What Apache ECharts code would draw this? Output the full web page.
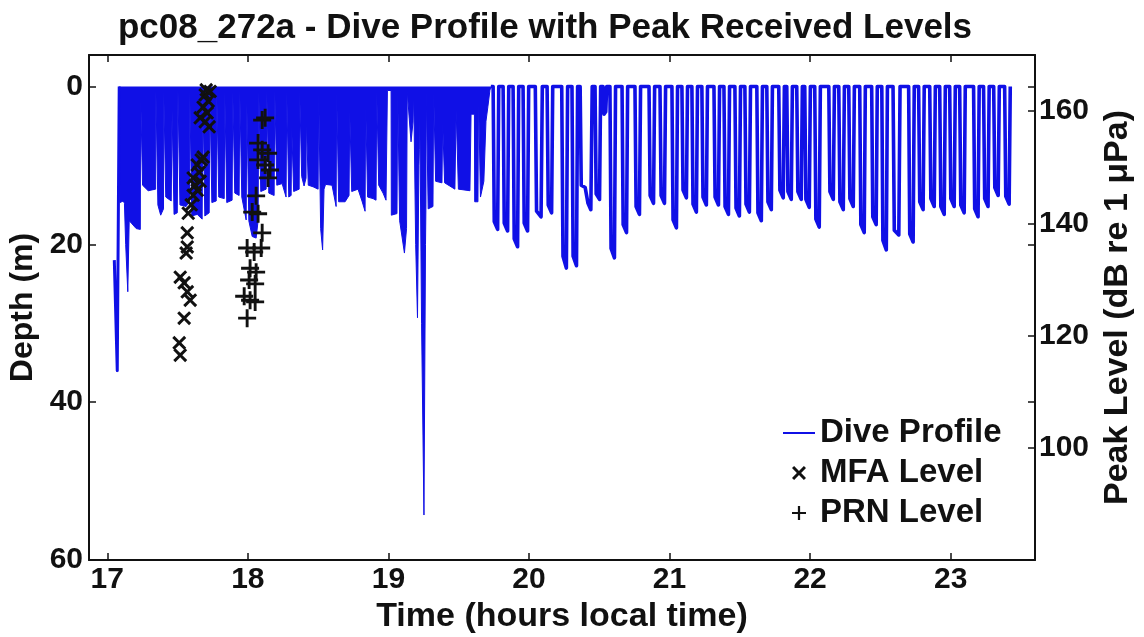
<!DOCTYPE html>
<html>
<head>
<meta charset="utf-8">
<title>pc08_272a dive profile</title>
<script src="https://cdn.jsdelivr.net/npm/echarts@6.0.0/dist/echarts.min.js"></script>
<style>
  html, body { margin: 0; padding: 0; background: #fff; }
  #chart { width: 1144px; height: 637px; }
</style>
</head>
<body>
<div id="chart"></div>
<script>
// tick labels
var timeTicks = [17, 18, 19, 20, 21, 22, 23];
var depthTicks = [0, 20, 40, 60];
var levelTicks = [100, 120, 140, 160];

// dive profile: [hours local time, depth m]
// first partial dive, tag starts mid dive
var diveStart = [[17.050, 22.0], [17.071, 36.0], [17.085, 0]];

// busy shallow diving 17.1 - 19.7 h (filled between surface and depth)
var diveDense = [
  [17.085, 0],
  [17.090, 14.7], [17.114, 14.5], [17.122, 14.8], [17.131, 20.0], [17.146, 26.0], [17.156, 17.0], [17.171, 17.3], [17.206, 18.0], [17.235, 18.1],
  [17.237, 0.5], [17.249, 0.5],
  [17.251, 12.5], [17.291, 13.2], [17.344, 13.0],
  [17.346, 0.5], [17.358, 0.5],
  [17.360, 15.0], [17.380, 16.3], [17.400, 15.5],
  [17.402, 0.5], [17.414, 0.5],
  [17.416, 14.0], [17.455, 14.5], [17.459, 14.4],
  [17.461, 3.0], [17.473, 3.0],
  [17.475, 16.2], [17.498, 16.0], [17.501, 16.0],
  [17.503, 0.5], [17.515, 0.5],
  [17.517, 15.0], [17.561, 15.2], [17.585, 14.5],
  [17.587, 0.5], [17.599, 0.5],
  [17.601, 16.4], [17.640, 16.2], [17.675, 16.8], [17.678, 16.8],
  [17.680, 0.5], [17.692, 0.5],
  [17.694, 16.4], [17.725, 16.0], [17.728, 16.0],
  [17.730, 0.5], [17.742, 0.5],
  [17.744, 14.7], [17.775, 14.5], [17.777, 14.5],
  [17.779, 0.5], [17.791, 0.5],
  [17.793, 14.0], [17.832, 14.2], [17.834, 14.2],
  [17.836, 0.5], [17.848, 0.5],
  [17.850, 14.7], [17.888, 14.4], [17.891, 14.4],
  [17.893, 0.5], [17.905, 0.5],
  [17.907, 13.5], [17.938, 13.8], [17.941, 13.8],
  [17.943, 0.5], [17.955, 0.5],
  [17.957, 14.0], [17.988, 16.9], [17.991, 16.9],
  [17.993, 2.0], [18.005, 2.0],
  [18.007, 17.0], [18.031, 19.0], [18.059, 19.2], [18.073, 17.0], [18.076, 17.0],
  [18.078, 0.5], [18.090, 0.5],
  [18.092, 13.3], [18.130, 13.0], [18.133, 13.0],
  [18.135, 0.5], [18.147, 0.5],
  [18.149, 13.5], [18.187, 13.8], [18.190, 13.8],
  [18.192, 0.5], [18.204, 0.5],
  [18.206, 12.5], [18.244, 12.3], [18.272, 14.0], [18.275, 14.0],
  [18.277, 0.5], [18.289, 0.5],
  [18.291, 14.0], [18.308, 13.8], [18.310, 13.8],
  [18.312, 5.0], [18.324, 5.0],
  [18.326, 13.3], [18.365, 13.0], [18.367, 13.0],
  [18.369, 0.5], [18.381, 0.5],
  [18.383, 11.4], [18.400, 12.6], [18.414, 11.6],
  [18.416, 4.0], [18.428, 4.0],
  [18.430, 12.5], [18.464, 12.7], [18.500, 13.0], [18.502, 13.0],
  [18.504, 0.5], [18.516, 0.5],
  [18.518, 18.0], [18.532, 20.7], [18.542, 13.0], [18.553, 12.4], [18.599, 12.5], [18.628, 15.2], [18.630, 15.2],
  [18.632, 0.5], [18.644, 0.5],
  [18.646, 14.6], [18.692, 14.6], [18.720, 13.8], [18.723, 13.8],
  [18.725, 3.0], [18.737, 3.0],
  [18.739, 13.3], [18.784, 13.0], [18.812, 14.5], [18.834, 15.8], [18.836, 15.8],
  [18.838, 2.0], [18.850, 2.0],
  [18.852, 14.0], [18.891, 14.2], [18.912, 14.4], [18.915, 14.4],
  [18.917, 0.5], [18.929, 0.5],
  [18.931, 12.5], [18.962, 13.5], [18.983, 14.4], [18.991, 14.4],
  [18.993, 0.5], [19.019, 0.5],
  [19.021, 16.3], [19.061, 16.1], [19.064, 16.1],
  [19.066, 0.5], [19.078, 0.5],
  [19.080, 17.0], [19.114, 21.1], [19.129, 18.0], [19.132, 18.0],
  [19.134, 0.5], [19.146, 0.5],
  [19.148, 4.0], [19.161, 7.0], [19.175, 4.5], [19.178, 4.5],
  [19.180, 0.5], [19.192, 0.5],
  [19.194, 20.0], [19.207, 29.3], [19.217, 10.0], [19.220, 8.0],
  [19.222, 0.5], [19.234, 0.5],
  [19.236, 30.0], [19.253, 54.3], [19.264, 20.0], [19.267, 15.0],
  [19.269, 0.5], [19.281, 0.5],
  [19.283, 15.5], [19.317, 15.2], [19.320, 15.2],
  [19.322, 0.5], [19.334, 0.5],
  [19.336, 12.0], [19.381, 12.2], [19.384, 12.2],
  [19.386, 4.5], [19.398, 4.5],
  [19.400, 12.2], [19.473, 13.0], [19.480, 13.0],
  [19.482, 3.0], [19.496, 3.0],
  [19.498, 13.0], [19.580, 13.2], [19.586, 13.2],
  [19.588, 3.5], [19.612, 3.5],
  [19.614, 14.6], [19.637, 14.6], [19.639, 14.6],
  [19.641, 1.0], [19.653, 1.0],
  [19.655, 14.0], [19.679, 12.0], [19.694, 4.4], [19.708, 2.5], [19.722, 0.5], [19.729, 0]
];

// separate dives from 19.7 h to the end of the record
var diveLate = [
  [19.729, 0], [19.745, 0], [19.753, 17.1], [19.777, 18.1], [19.785, 0],
  [19.816, 0], [19.824, 17.3], [19.848, 18.3], [19.856, 0],
  [19.887, 0], [19.895, 19.3], [19.919, 20.3], [19.927, 0],
  [19.958, 0], [19.966, 17.3], [19.990, 18.3], [19.998, 0],
  [20.045, 0], [20.054, 15.8], [20.086, 16.5], [20.095, 0],
  [20.129, 0], [20.137, 15.0], [20.161, 16.0], [20.169, 0],
  [20.233, 0], [20.242, 21.5], [20.266, 23.0], [20.275, 0],
  [20.306, 0], [20.314, 21.5], [20.338, 22.7], [20.346, 0],
  [20.364, 0], [20.372, 12.5], [20.400, 12.8], [20.420, 14.8], [20.440, 15.6], [20.450, 0],
  [20.470, 0], [20.478, 13.6], [20.502, 14.3], [20.510, 0],
  [20.527, 0], [20.534, 3.5], [20.546, 3.2], [20.553, 0],
  [20.576, 0], [20.584, 20.5], [20.608, 21.7], [20.616, 0],
  [20.662, 0], [20.670, 17.5], [20.694, 18.5], [20.702, 0],
  [20.754, 0], [20.762, 15.2], [20.786, 16.2], [20.794, 0],
  [20.854, 0], [20.862, 13.8], [20.886, 14.8], [20.894, 0],
  [20.932, 0], [20.940, 13.8], [20.964, 14.8], [20.972, 0],
  [21.017, 0], [21.025, 16.9], [21.049, 17.9], [21.057, 0],
  [21.088, 0], [21.096, 13.1], [21.120, 14.1], [21.128, 0],
  [21.159, 0], [21.167, 14.9], [21.191, 15.9], [21.199, 0],
  [21.230, 0], [21.238, 14.0], [21.262, 15.0], [21.270, 0],
  [21.316, 0], [21.324, 14.0], [21.348, 15.0], [21.356, 0],
  [21.387, 0], [21.395, 15.2], [21.419, 16.2], [21.427, 0],
  [21.465, 0], [21.473, 15.4], [21.497, 16.4], [21.505, 0],
  [21.536, 0], [21.544, 14.9], [21.568, 15.9], [21.576, 0],
  [21.621, 0], [21.629, 16.0], [21.653, 17.0], [21.661, 0],
  [21.692, 0], [21.700, 14.6], [21.724, 15.6], [21.732, 0],
  [21.777, 0], [21.785, 13.1], [21.809, 14.1], [21.817, 0],
  [21.834, 0], [21.842, 13.3], [21.866, 14.3], [21.874, 0],
  [21.905, 0], [21.913, 13.3], [21.937, 14.3], [21.945, 0],
  [21.962, 0], [21.970, 14.3], [21.994, 15.3], [22.002, 0],
  [22.033, 0], [22.041, 16.8], [22.065, 17.8], [22.073, 0],
  [22.133, 0], [22.141, 13.3], [22.165, 14.3], [22.173, 0],
  [22.204, 0], [22.212, 14.6], [22.236, 15.6], [22.244, 0],
  [22.275, 0], [22.283, 14.2], [22.307, 15.2], [22.315, 0],
  [22.353, 0], [22.361, 17.5], [22.385, 18.5], [22.393, 0],
  [22.438, 0], [22.446, 16.5], [22.470, 17.5], [22.478, 0],
  [22.510, 0], [22.518, 19.5], [22.542, 20.7], [22.550, 0],
  [22.590, 0], [22.599, 18.2], [22.631, 18.8], [22.640, 0],
  [22.701, 0], [22.709, 18.7], [22.733, 19.7], [22.741, 0],
  [22.772, 0], [22.780, 14.6], [22.804, 15.6], [22.812, 0],
  [22.851, 0], [22.859, 14.2], [22.883, 15.2], [22.891, 0],
  [22.922, 0], [22.930, 15.2], [22.954, 16.2], [22.962, 0],
  [22.993, 0], [23.001, 14.2], [23.025, 15.2], [23.033, 0],
  [23.064, 0], [23.072, 15.0], [23.096, 16.0], [23.104, 0],
  [23.163, 0], [23.171, 15.5], [23.195, 16.5], [23.203, 0],
  [23.234, 0], [23.242, 14.2], [23.266, 15.2], [23.274, 0],
  [23.306, 0], [23.314, 12.8], [23.338, 13.8], [23.346, 0],
  [23.384, 0], [23.392, 13.9], [23.416, 14.9], [23.424, 0]
];

// peak received levels: [hours, dB re 1 uPa]
var mfaLevel = [
  [17.512, 118.7], [17.519, 116.5], [17.547, 123.1], [17.519, 130.4],
  [17.547, 129.4], [17.569, 127.8], [17.590, 126.3], [17.561, 134.7],
  [17.569, 135.8], [17.569, 138.3], [17.576, 141.8], [17.597, 143.3],
  [17.611, 145.0], [17.625, 146.8], [17.640, 145.9], [17.611, 148.1],
  [17.654, 149.1], [17.640, 150.4], [17.668, 151.3], [17.682, 151.8],
  [17.661, 147.5], [17.697, 162.9], [17.718, 161.8], [17.682, 160.7],
  [17.711, 159.7], [17.661, 158.8], [17.697, 158.1], [17.725, 157.2],
  [17.732, 163.5], [17.704, 163.8]
];
var prnLevel = [
  [18.102, 158.4], [18.123, 158.8], [18.073, 154.3], [18.102, 153.1],
  [18.144, 152.5], [18.073, 151.3], [18.123, 150.4], [18.158, 149.5],
  [18.144, 148.1], [18.059, 144.9], [18.031, 142.0], [18.073, 141.7],
  [18.102, 138.3], [17.995, 135.6], [18.045, 134.9], [18.095, 135.6],
  [18.016, 132.0], [18.059, 131.3], [18.009, 129.9], [18.052, 129.2],
  [17.974, 127.0], [18.016, 126.3], [18.052, 126.0], [17.995, 123.1]
];

var FONT = "'Liberation Sans', Arial, Helvetica, sans-serif";
var BLUE = '#1010e6';
var INK = '#111111';
var crossPath = 'path://M0,1.5L1.5,0L5,3.5L8.5,0L10,1.5L6.5,5L10,8.5L8.5,10L5,6.5L1.5,10L0,8.5L3.5,5Z';
var plusPath = 'path://M4.2,0H5.8V4.2H10V5.8H5.8V10H4.2V5.8H0V4.2H4.2Z';

var chart = echarts.init(document.getElementById('chart'), null, { renderer: 'canvas' });

function tickStyle(values) {
  return { show: true, inside: true, length: 7, customValues: values, lineStyle: { color: INK, width: 1.5 } };
}
function labelStyle(values, margin) {
  return { show: true, customValues: values, margin: margin, color: INK, fontSize: 30, fontWeight: 'bold', fontFamily: FONT };
}
var nameStyle = { color: INK, fontSize: 34, fontWeight: 'bold', fontFamily: FONT };
var frameLine = { show: true, onZero: false, lineStyle: { color: INK, width: 2 } };

var option = {
  backgroundColor: '#ffffff',
  animation: false,
  title: {
    text: 'pc08_272a - Dive Profile with Peak Received Levels',
    left: 545,
    top: 11,
    textAlign: 'center',
    padding: 0,
    textStyle: { color: INK, fontSize: 35, fontWeight: 'bold', fontFamily: FONT }
  },
  legend: {
    orient: 'vertical',
    left: 783,
    top: 416,
    padding: 0,
    itemWidth: 32,
    itemHeight: 14,
    itemGap: 6,
    selectedMode: false,
    textStyle: { color: INK, fontSize: 33, fontWeight: 'bold', fontFamily: FONT, lineHeight: 34 },
    data: [
      { name: 'Dive Profile', icon: 'path://M0,0H32V2H0Z' },
      { name: 'MFA Level', icon: crossPath },
      { name: 'PRN Level', icon: plusPath }
    ]
  },
  grid: { left: 89, right: 109, top: 55, bottom: 77, containLabel: false, outerBoundsMode: 'none' },
  xAxis: [
    {
      type: 'value', position: 'bottom', min: 16.87, max: 23.6,
      axisLine: frameLine, axisTick: tickStyle(timeTicks), axisLabel: labelStyle(timeTicks, 5),
      splitLine: { show: false },
      name: 'Time (hours local time)', nameLocation: 'middle', nameGap: 37, nameTextStyle: nameStyle
    },
    {
      type: 'value', position: 'top', min: 16.87, max: 23.6,
      axisLine: frameLine, axisTick: tickStyle(timeTicks), axisLabel: { show: false },
      splitLine: { show: false }
    }
  ],
  yAxis: [
    {
      type: 'value', position: 'left', inverse: true, min: -4, max: 60,
      axisLine: frameLine, axisTick: tickStyle(depthTicks), axisLabel: labelStyle(depthTicks, 6),
      splitLine: { show: false },
      name: 'Depth (m)', nameLocation: 'middle', nameRotate: 90, nameGap: 35,
      nameTextStyle: { color: INK, fontSize: 32, fontWeight: 'bold', fontFamily: FONT }
    },
    {
      type: 'value', position: 'right', min: 80, max: 170,
      axisLine: frameLine, axisTick: tickStyle(levelTicks), axisLabel: labelStyle(levelTicks, 4),
      splitLine: { show: false },
      name: 'Peak Level (dB re 1 \u03bcPa)', nameLocation: 'middle', nameRotate: 90, nameGap: 66, nameTextStyle: nameStyle
    },
    {
      type: 'value', position: 'right', inverse: true, min: -4, max: 60,
      axisLine: { show: false }, axisTick: tickStyle(depthTicks), axisLabel: { show: false },
      splitLine: { show: false }
    }
  ],
  series: [
    {
      name: 'Dive Profile', type: 'line', xAxisIndex: 0, yAxisIndex: 0,
      data: diveStart, symbol: 'none', showSymbol: false, sampling: 'none',
      itemStyle: { color: BLUE },
      lineStyle: { color: BLUE, width: 3, join: 'round' },
      z: 2
    },
    {
      name: 'Dive Profile', type: 'line', xAxisIndex: 0, yAxisIndex: 0,
      data: diveDense, symbol: 'none', showSymbol: false, sampling: 'none',
      itemStyle: { color: BLUE },
      lineStyle: { color: BLUE, width: 1, join: 'round' },
      areaStyle: { color: BLUE, opacity: 1, origin: 'auto' },
      z: 2
    },
    {
      name: 'Dive Profile', type: 'line', xAxisIndex: 0, yAxisIndex: 0,
      data: diveLate, symbol: 'none', showSymbol: false, sampling: 'none',
      itemStyle: { color: BLUE },
      lineStyle: { color: BLUE, width: 3.6, join: 'round' },
      z: 2
    },
    {
      name: 'MFA Level', type: 'scatter', xAxisIndex: 0, yAxisIndex: 1,
      data: mfaLevel, symbol: crossPath, symbolSize: 14,
      itemStyle: { color: INK, opacity: 1 },
      z: 5
    },
    {
      name: 'PRN Level', type: 'scatter', xAxisIndex: 0, yAxisIndex: 1,
      data: prnLevel, symbol: plusPath, symbolSize: 18,
      itemStyle: { color: INK, opacity: 1 },
      z: 5
    }
  ]
};

chart.setOption(option);
</script>
</body>
</html>
